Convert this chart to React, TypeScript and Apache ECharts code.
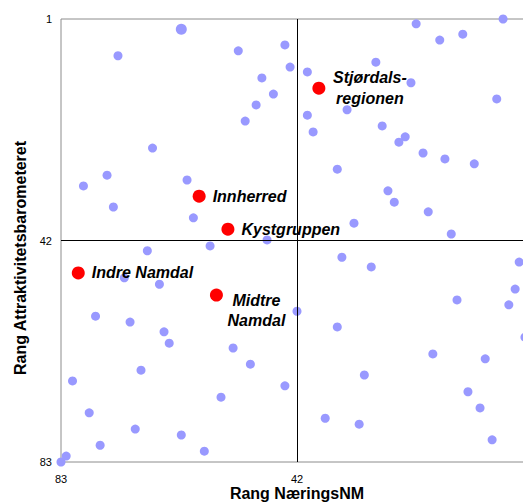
import React, { useEffect, useRef } from "react";
import * as echarts from "echarts";

// Tick labels (the x tick "1" lies beyond the visible right edge in the original)
const xTicks = [42, 83];
const yTicks = [1, 42, 83];

// Municipalities: rank NæringsNM (x) and rank Attraktivitetsbarometeret (y)
const kommuneX = [
  73.1, 52.2, 44.1, 43.2, 48.1, 46.1, 49.1, 51.0, 67.1, 75.0,
  79.1, 73.9, 61.1, 60.0, 57.1, 47.2, 68.0, 72.0, 65.9, 77.0,
  71.0, 65.1, 64.2, 53.1, 50.1, 69.1, 81.0, 44.1, 55.2, 78.1,
  70.1, 62.1, 76.2, 58.1, 82.1, 83.0,
  21.3, 17.2, 13.2, 6.2, 28.3, 40.2, 22.2, 7.3, 33.3, 40.2,
  39.2, 27.2, 23.2, 24.3, 20.1, 16.3, 11.2, 35.0, 26.2, 25.1,
  19.2, 32.1, 15.2, 34.2, 29.1, 3.4, 4.1, 14.2, 5.2, 42.0,
  35.0, 2.4, 18.4, 9.3, 30.3, 12.3, 10.2, 37.1, 31.2, 8.1,
];
const kommuneY = [
  7.8, 6.9, 5.8, 9.9, 11.9, 14.9, 16.9, 19.9, 24.9, 29.9,
  31.9, 35.8, 30.8, 37.8, 43.0, 41.9, 43.9, 48.9, 50.1, 56.0,
  57.1, 58.9, 61.0, 61.9, 64.9, 66.0, 68.0, 68.9, 71.0, 73.9,
  76.9, 78.0, 79.9, 81.0, 81.9, 83.0,
  1.9, 4.9, 3.8, 1.0, 9.0, 10.8, 12.8, 15.8, 17.8, 18.8,
  21.9, 20.8, 22.8, 23.8, 25.8, 26.9, 27.8, 28.8, 32.8, 34.9,
  36.7, 38.8, 40.8, 45.1, 46.9, 46.0, 51.0, 53.0, 53.9, 55.1,
  58.0, 59.9, 63.0, 63.9, 66.9, 70.0, 73.0, 74.9, 76.0, 78.9,
];

// The slightly larger marker (overlapping municipalities)
const overlapX = [62.1];
const overlapY = [2.9];

// Regions
const regionNames = ["Stjørdals-\nregionen", "Innherred", "Kystgruppen", "Indre Namdal", "Midtre\nNamdal"];
const regionX = [38.2, 59.0, 54.0, 80.0, 56.0];
const regionY = [13.8, 33.8, 39.9, 48.0, 52.1];

const FONT = "'Liberation Sans', Arial, sans-serif";

export default function App() {
  const ref = useRef<HTMLDivElement>(null);

  useEffect(() => {
    document.body.style.margin = "0";
    const chart = echarts.init(ref.current!, null, { renderer: "svg" });

    const labelBase = {
      show: true,
      position: "right",
      distance: 7,
      color: "#000",
      fontFamily: FONT,
      fontSize: 16,
      fontWeight: "bold",
      fontStyle: "italic",
      lineHeight: 20,
    };

    const regionData = regionNames.map((name, i) => {
      const item: any = { name, value: [regionX[i], regionY[i]] };
      if (name.startsWith("Stjørdals")) {
        item.label = { position: [57.5, 6.5], align: "center", verticalAlign: "middle", lineHeight: 21 };
      } else if (name.startsWith("Midtre")) {
        item.label = { position: [46.5, 21.5], align: "center", verticalAlign: "middle", lineHeight: 20 };
      }
      return item;
    });

    chart.setOption({
      animation: false,
      grid: {
        left: 61,
        top: 19,
        right: -10,
        bottom: 41,
        containLabel: false,
        outerBoundsMode: "none",
        show: true,
        borderColor: "#8c8c8c",
        borderWidth: 1,
        backgroundColor: "transparent",
      },
      xAxis: {
        type: "value",
        min: 1,
        max: 83,
        inverse: true,
        name: "Rang NæringsNM",
        nameLocation: "middle",
        nameGap: 23,
        nameMoveOverlap: false,
        nameTextStyle: { fontFamily: FONT, fontSize: 16, fontWeight: "bold", color: "#000", lineHeight: 16 },
        axisLine: { show: false },
        axisTick: { show: false },
        splitLine: { show: false },
        axisLabel: {
          customValues: xTicks,
          margin: 11,
          fontFamily: FONT,
          fontSize: 11,
          color: "#000",
        },
      },
      yAxis: {
        type: "value",
        min: 1,
        max: 83,
        inverse: true,
        axisLine: { show: false },
        axisTick: { show: false },
        splitLine: { show: false },
        axisLabel: {
          customValues: yTicks,
          margin: 9,
          fontFamily: FONT,
          fontSize: 11,
          color: "#000",
        },
      },
      graphic: [
        {
          type: "text",
          x: 20,
          y: 258,
          rotation: Math.PI / 2,
          style: {
            text: "Rang Attraktivitetsbarometeret",
            font: `bold 16px ${FONT}`,
            fill: "#000",
            align: "center",
            verticalAlign: "middle",
          },
        },
      ],
      series: [
        {
          type: "scatter",
          name: "Kommuner",
          symbolSize: 9,
          itemStyle: { color: "#9999ff", opacity: 1 },
          emphasis: { disabled: true },
          data: kommuneX.map((x, i) => [x, kommuneY[i]]),
          z: 2,
          markLine: {
            silent: true,
            symbol: ["none", "none"],
            label: { show: false },
            lineStyle: { color: "#000", width: 1, type: "solid" },
            emphasis: { disabled: true },
            data: [{ xAxis: 42 }, { yAxis: 42 }],
          },
        },
        {
          type: "scatter",
          name: "Kommuner (overlapp)",
          symbolSize: 11,
          itemStyle: { color: "#9999ff", opacity: 1 },
          emphasis: { disabled: true },
          data: overlapX.map((x, i) => [x, overlapY[i]]),
          z: 2,
        },
        {
          type: "scatter",
          name: "Regioner",
          symbolSize: 13,
          itemStyle: { color: "#ff0000", opacity: 1 },
          emphasis: { disabled: true },
          label: { ...labelBase, formatter: (p: any) => p.name },
          data: regionData,
          z: 5,
        },
      ],
    });

    return () => chart.dispose();
  }, []);

  return (
    <div
      ref={ref}
      style={{ position: "absolute", left: 0, top: 0, width: 523, height: 503 }}
    />
  );
}
